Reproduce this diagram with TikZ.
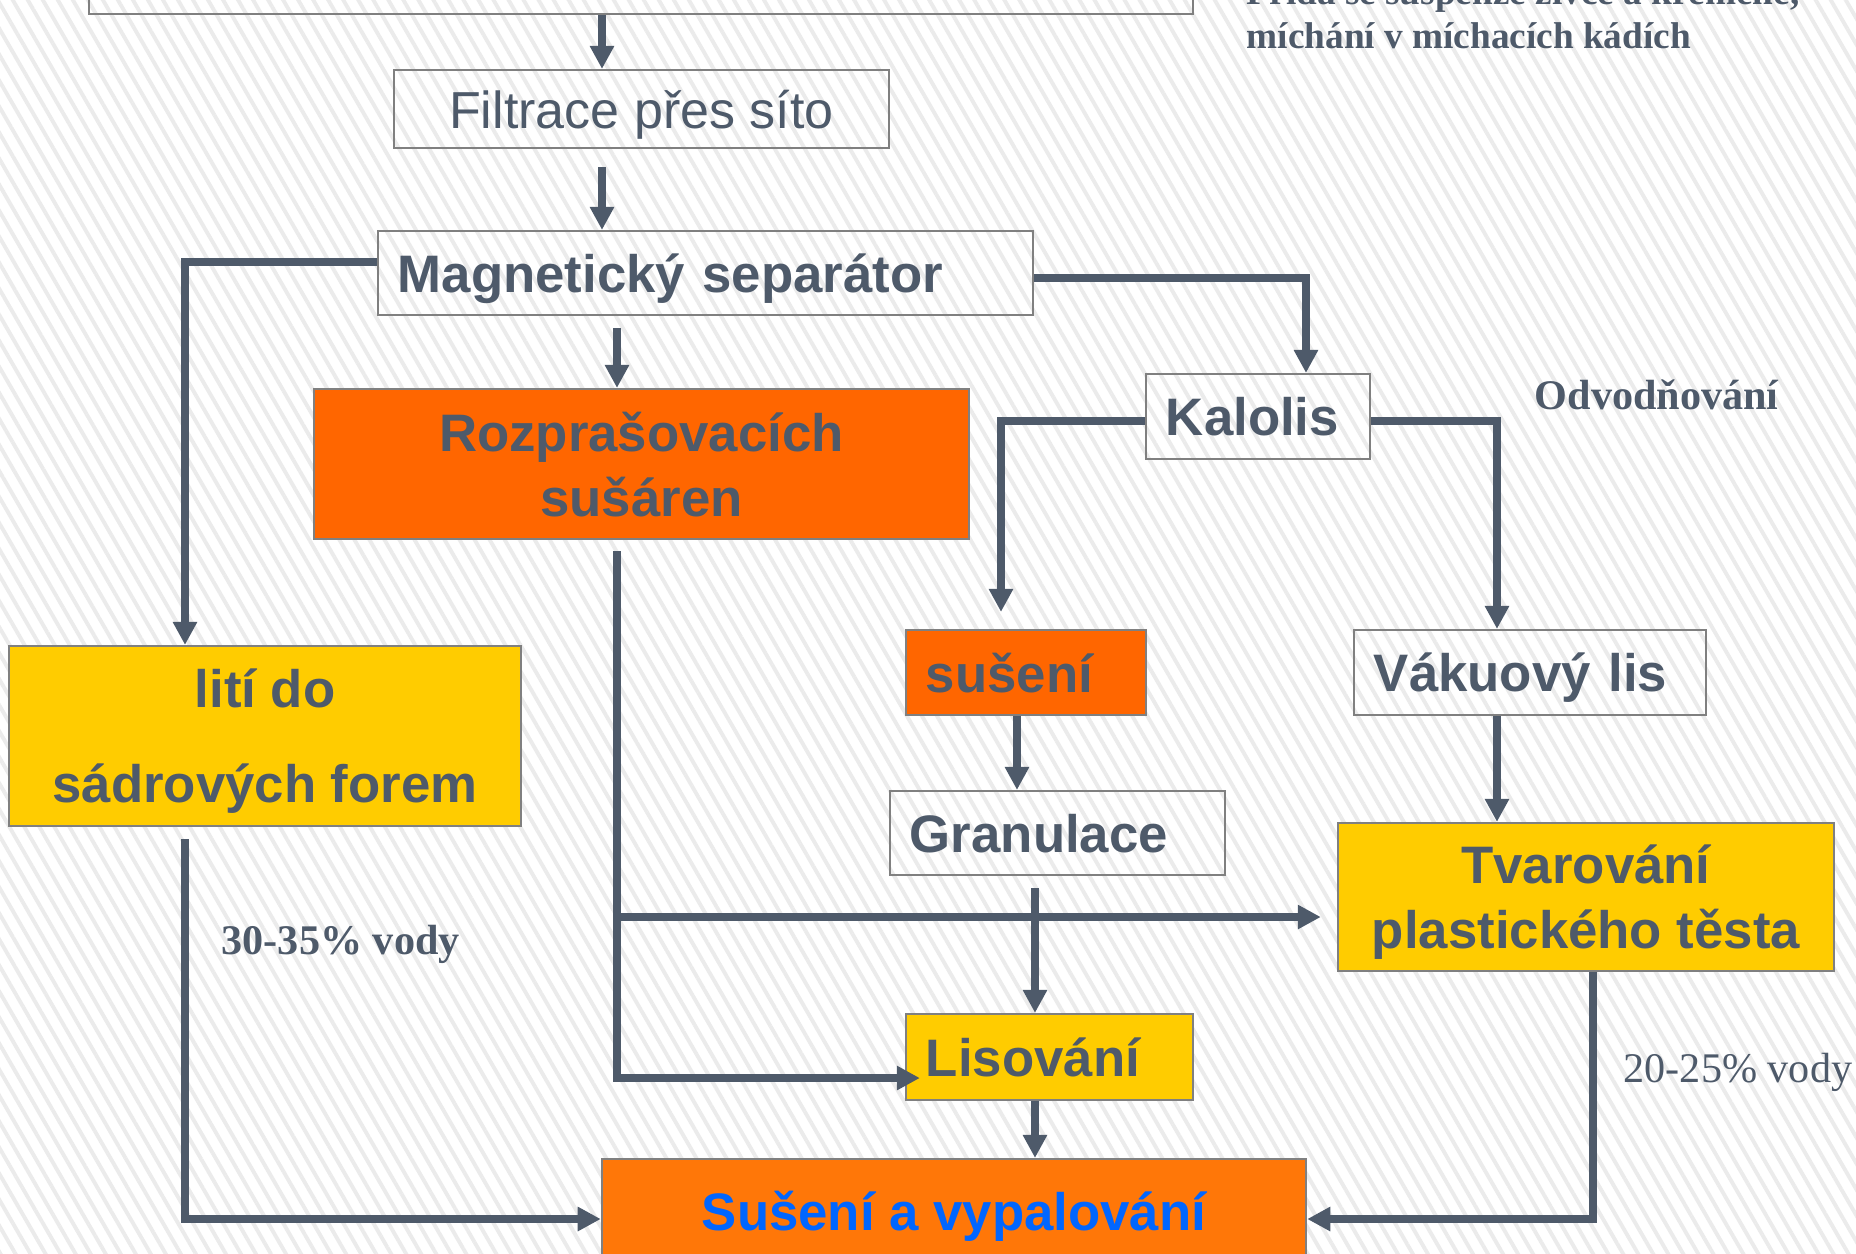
\documentclass[tikz,border=0pt]{standalone}
\usepackage{fontspec}
\setmainfont{Liberation Serif}
\setsansfont{Liberation Sans}
\usepackage{xcolor}
\usetikzlibrary{positioning, arrows.meta, patterns.meta}

\definecolor{ink}{HTML}{4E5A6A}
\definecolor{rim}{HTML}{808080}
\definecolor{oranz}{HTML}{FF6600}
\definecolor{oranzB}{HTML}{FF7708}
\definecolor{zluta}{HTML}{FFCC00}
\definecolor{modra}{HTML}{0066FF}

\begin{document}
\begin{tikzpicture} [x = 0.01cm, y = -0.01cm,
        box/.style = {draw=rim, line width=0.6pt, rectangle, inner sep=0pt, align=center, text=ink,
            text depth=0pt, font=\sffamily\bfseries\fontsize{15}{18.5}\selectfont},
        lbox/.style = {box, align=left, inner xsep=0.2cm, text width=#1},
        flow/.style = {draw=ink, line width=2.3pt, -{Triangle[length=0.23cm, width=0.23cm]}},
        note/.style = {text=ink, inner sep=0pt, font=\rmfamily\bfseries\fontsize{12}{14}\selectfont}]
        % background
        \fill [white] (0,0) rectangle (1856,1253);
        \fill [pattern={Lines[angle=-60, distance=3.7pt, line width=1.1pt]}, pattern color=black!8]
        (0,0) rectangle (1856,1253);
        \useasboundingbox (0,0) rectangle (1856,1253);

        \node (TOP)[box, minimum width=11.04cm, minimum height=0.74cm] at (641,-23) {};
        \node (FILTR)[box, minimum width=4.95cm, minimum height=0.78cm,
        font=\sffamily\fontsize{14.8}{17}\selectfont] at (641.5,109) {Filtrace přes síto};
        \node (MAGNET)[lbox=6.15cm, minimum height=0.84cm] at (705.5,273) {Magnetický separátor};
        \node (ROZPR)[box, fill=oranz, minimum width=6.55cm, minimum height=1.5cm] at (641.5,464)
        {Rozprašovacích\\sušáren};
        \node (KALOLIS)[lbox=1.84cm, minimum height=0.85cm] at (1258,416.5) {Kalolis};
        \node (LITI)[box, fill=zluta, minimum width=5.12cm, minimum height=1.8cm,
        font=\sffamily\bfseries\fontsize{15}{27}\selectfont] at (265,736) {lití do\\sádrových forem};
        \node (SUSENI)[lbox=2.0cm, fill=oranz, minimum height=0.85cm] at (1026,672.5) {sušení};
        \node (VAKUUM)[lbox=3.12cm, minimum height=0.85cm] at (1530,672.5) {Vákuový lis};
        \node (GRANUL)[lbox=2.95cm, minimum height=0.84cm] at (1057.5,833) {Granulace};
        \node (TVAR)[box, fill=zluta, minimum width=4.96cm, minimum height=1.48cm] at (1586,897)
        {Tvarování\\plastického těsta};
        \node (LISOV)[lbox=2.47cm, fill=zluta, minimum height=0.86cm] at (1049.5,1057) {Lisování};
        \node (VYPAL)[box, fill=oranzB, text=modra, minimum width=7.04cm, minimum height=1.03cm]
        at (954,1210.5) {Sušení a vypalování};

        \node (PRIDA)[note, anchor=base west, font=\rmfamily\bfseries\fontsize{10.6}{13}\selectfont]
        at (1246,4) {Přidá se suspenze živce a křemene,};
        \node (MICHANI)[note, anchor=base west, font=\rmfamily\bfseries\fontsize{10.6}{13}\selectfont]
        at (1246,48) {míchání v míchacích kádích};
        \node (ODVOD)[note, anchor=base west] at (1534,409) {Odvodňování};
        \node (VODA1)[note, anchor=base west] at (221,954) {30-35\% vody};
        \node (VODA2)[note, anchor=base west, font=\rmfamily\fontsize{12}{14}\selectfont]
        at (1623,1082) {20-25\% vody};

        % columns of the connectors
        \coordinate (SPINE) at (602,0); \coordinate (COL2) at (617,0);
        \coordinate (LCOL) at (185,0); \coordinate (RCOL) at (1306,0);
        \coordinate (KCOL) at (1001,0); \coordinate (VCOL) at (1497,0);
        \coordinate (SCOL) at (1017,0); \coordinate (GCOL) at (1035,0);
        \coordinate (TCOL) at (1593,0); \coordinate (BRANCH) at (617,917);

        \draw [flow] (TOP.south -| SPINE) -- (FILTR.north -| SPINE);
        \draw [flow] ([yshift=-0.18cm]FILTR.south -| SPINE) -- (MAGNET.north -| SPINE);
        \draw [flow] ([yshift=-0.12cm]MAGNET.south -| COL2) -- (ROZPR.north -| COL2);
        \draw [flow] ([yshift=0.11cm]MAGNET.west) -| (LITI.north -| LCOL);
        \draw [flow] ([yshift=-0.05cm]MAGNET.east) -| (KALOLIS.north -| RCOL);
        \draw [flow] ([yshift=-0.045cm]KALOLIS.west) -| ([yshift=0.17cm]SUSENI.north -| KCOL);
        \draw [flow] ([yshift=-0.045cm]KALOLIS.east) -| (VAKUUM.north -| VCOL);
        \draw [flow] (SUSENI.south -| SCOL) -- (GRANUL.north -| SCOL);
        \draw [flow] (VAKUUM.south -| VCOL) -- (TVAR.north -| VCOL);
        \draw [flow] ([yshift=-0.11cm]ROZPR.south -| COL2) |- ([xshift=0.15cm, yshift=-0.21cm]LISOV.west);
        \draw [flow] (BRANCH) -- ([xshift=-0.16cm]TVAR.west |- BRANCH);
        \draw [flow] ([yshift=-0.12cm]GRANUL.south -| GCOL) -- (LISOV.north -| GCOL);
        \draw [flow] (LISOV.south -| GCOL) -- (VYPAL.north -| GCOL);
        \draw [flow] ([yshift=-0.12cm]LITI.south -| LCOL) |- ([yshift=-0.085cm]VYPAL.west);
        \draw [flow] (TVAR.south -| TCOL) |- ([yshift=-0.085cm]VYPAL.east);
    \end{tikzpicture}
\end{document}
